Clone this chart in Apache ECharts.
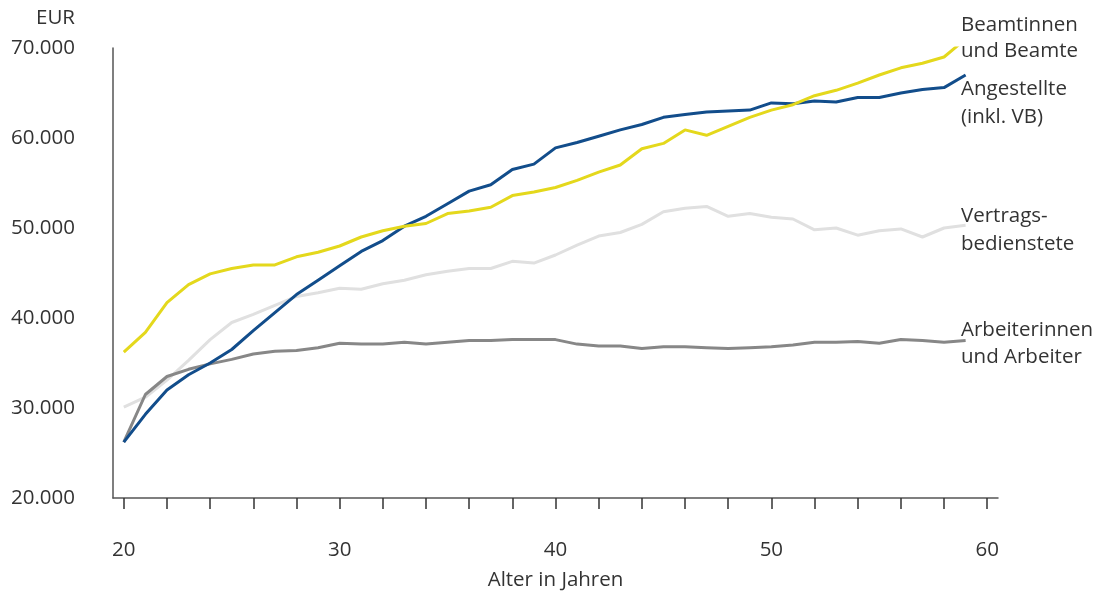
<!DOCTYPE html>
<html>
<head>
<meta charset="utf-8">
<script src="https://cdn.jsdelivr.net/npm/echarts@6/dist/echarts.min.js"></script>
<style>html,body{margin:0;padding:0;background:#fff}#c{width:1102px;height:596px}</style>
</head>
<body>
<div id="c"></div>
<script>
const ages = [];
for (let a = 20; a <= 60; a++) ages.push(String(a));

const beamte = [36200,38400,41700,43700,44900,45500,45900,45900,46800,47300,48000,49000,49700,50200,50500,51600,51900,52300,53600,54000,54500,55300,56200,57000,58800,59400,60900,60300,61300,62300,63100,63700,64700,65300,66100,67000,67800,68300,69000,71000];
const angestellte = [26200,29300,32000,33700,35000,36500,38600,40600,42600,44200,45800,47400,48600,50200,51300,52700,54100,54800,56500,57100,58900,59500,60200,60900,61500,62300,62600,62900,63000,63100,63900,63800,64100,64000,64500,64500,65000,65400,65600,67000];
const vertragsbedienstete = [30100,31200,33100,35300,37600,39500,40400,41400,42400,42800,43300,43200,43800,44200,44800,45200,45500,45500,46300,46100,47000,48100,49100,49500,50400,51800,52200,52400,51300,51600,51200,51000,49800,50000,49200,49700,49900,49000,50000,50300];
const arbeiter = [26200,31500,33500,34300,34900,35400,36000,36300,36400,36700,37200,37100,37100,37300,37100,37300,37500,37500,37600,37600,37600,37100,36900,36900,36600,36800,36800,36700,36600,36700,36800,37000,37300,37300,37400,37200,37600,37500,37300,37500];
const yTicks = [20000,30000,40000,50000,60000,70000];
const seriesNames = ['Beamtinnen\nund Beamte','Angestellte\n(inkl. VB)','Vertrags-\nbedienstete','Arbeiterinnen\nund Arbeiter'];

const FONT = '"Open Sans", "Noto Sans", sans-serif';
const TXT = '#333333';
const FS = 20.5;

const chart = echarts.init(document.getElementById('c'), null, {renderer: 'canvas'});
function fmt(v){ return String(v).replace(/\B(?=(\d{3})+(?!\d))/g, '.'); }
function mk(name, data, color, z){
  return {name, type:'line', data, symbol:'none', z, lineStyle:{color, width:3}, itemStyle:{color}, clip:true, animation:false};
}
chart.setOption({
  animation:false,
  grid:{left:113, right:104, top:48, bottom:94, containLabel:false},
  xAxis:{
    type:'category', data:ages, boundaryGap:true,
    axisLine:{lineStyle:{color:'#555', width:1.5}},
    axisTick:{show:true, interval:1, alignWithLabel:true, length:11, lineStyle:{color:'#333', width:1.5}},
    axisLabel:{interval:9, margin:42, color:TXT, fontSize:FS, fontFamily:FONT},
    name:'Alter in Jahren', nameLocation:'middle', nameGap:72,
    nameTextStyle:{color:TXT, fontSize:FS, fontFamily:FONT},
    splitLine:{show:false}
  },
  yAxis:{
    type:'value', min:20000, max:70000, interval:10000,
    axisLine:{show:true, lineStyle:{color:'#555', width:1.5}},
    axisTick:{show:false},
    splitLine:{show:false},
    axisLabel:{margin:38, color:TXT, fontSize:FS, fontFamily:FONT, formatter:(v)=> yTicks.includes(v) ? fmt(v) : ''}
  },
  graphic:[
    {type:'text', right:1102-75, top:8, style:{text:'EUR', fill:TXT, font:FS+'px '+FONT, textAlign:'right'}},
    {type:'text', left:961, top:12, style:{text:seriesNames[0], fill:TXT, font:FS+'px '+FONT, lineHeight:26}},
    {type:'text', left:961, top:75, style:{text:seriesNames[1], fill:TXT, font:FS+'px '+FONT, lineHeight:28}},
    {type:'text', left:961, top:202, style:{text:seriesNames[2], fill:TXT, font:FS+'px '+FONT, lineHeight:28}},
    {type:'text', left:961, top:317, style:{text:seriesNames[3], fill:TXT, font:FS+'px '+FONT, lineHeight:27}}
  ],
  series:[
    mk('Vertragsbedienstete', vertragsbedienstete, '#e0e0e0', 1),
    mk('Arbeiter', arbeiter, '#878787', 2),
    mk('Angestellte', angestellte, '#124d8b', 3),
    mk('Beamte', beamte, '#e4d81c', 4)
  ]
});
</script>
</body>
</html>
